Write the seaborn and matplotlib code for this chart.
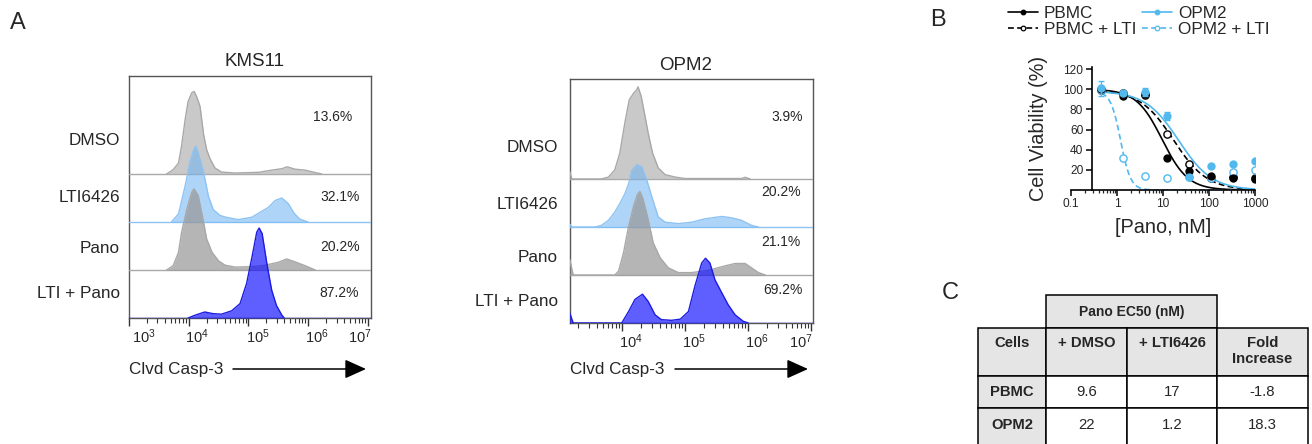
import numpy as np
import matplotlib
matplotlib.use("Agg")
import matplotlib.pyplot as plt
import matplotlib.transforms as mtrans
from matplotlib.lines import Line2D
from matplotlib.patches import Rectangle
from matplotlib.ticker import LogLocator, FixedLocator, NullFormatter
import seaborn as sns

# ------------------------------------------------------------------ data
conditions = ["DMSO", "LTI6426", "Pano", "LTI + Pano"]
kms11_pct = ["13.6%", "32.1%", "20.2%", "87.2%"]
opm2_pct = ["3.9%", "20.2%", "21.1%", "69.2%"]

# flow histograms: (log10 Clvd Casp-3 intensity, normalised count)
kms11_dmso = [(3.63, 0), (3.74, 0.09), (3.83, 0.23), (3.88, 0.58), (3.94, 1.13), (3.99, 1.51),
              (4.05, 1.69), (4.09, 1.72), (4.13, 1.62), (4.19, 1.41), (4.25, 0.82), (4.30, 0.51),
              (4.36, 0.31), (4.44, 0.125), (4.55, 0.04), (4.78, 0.02), (5.17, 0.035), (5.39, 0.08),
              (5.56, 0.11), (5.65, 0.15), (5.78, 0.10), (5.95, 0.08), (6.12, 0.03), (6.23, 0)]
kms11_lti = [(3.71, 0), (3.83, 0.17), (3.94, 0.75), (4.02, 1.24), (4.08, 1.50), (4.12, 1.58),
             (4.16, 1.44), (4.25, 1.03), (4.33, 0.54), (4.41, 0.26), (4.52, 0.14), (4.62, 0.10),
             (4.83, 0.05), (4.97, 0.08), (5.06, 0.10), (5.22, 0.22), (5.33, 0.30), (5.45, 0.45),
             (5.56, 0.50), (5.67, 0.38), (5.76, 0.19), (5.86, 0.06), (6.00, 0)]
kms11_pano = [(3.63, 0), (3.74, 0.09), (3.83, 0.37), (3.88, 0.78), (3.97, 1.27), (4.05, 1.62),
              (4.09, 1.69), (4.16, 1.55), (4.25, 0.99), (4.30, 0.65), (4.39, 0.37), (4.50, 0.19),
              (4.61, 0.10), (4.78, 0.06), (5.06, 0.07), (5.28, 0.10), (5.50, 0.16), (5.64, 0.23),
              (5.78, 0.17), (5.95, 0.09), (6.12, 0)]
kms11_ltipano = [(3.99, 0), (4.11, 0.06), (4.27, 0.125), (4.41, 0.09), (4.55, 0.08), (4.72, 0.15),
                 (4.86, 0.30), (4.97, 0.72), (5.06, 1.27), (5.14, 1.79), (5.18, 1.875), (5.23, 1.76),
                 (5.31, 1.13), (5.39, 0.58), (5.47, 0.26), (5.56, 0.06), (5.60, 0)]

opm2_dmso = [(3.175, 0.16), (3.21, 0), (3.68, 0), (3.79, 0.04), (3.89, 0.19), (3.97, 0.54),
             (4.05, 1.17), (4.12, 1.65), (4.19, 1.79), (4.24, 1.86), (4.26, 1.92), (4.31, 1.72),
             (4.37, 1.31), (4.42, 0.96), (4.49, 0.54), (4.58, 0.23), (4.69, 0.09), (4.85, 0.04),
             (5.0, 0.01), (5.9, 0.01), (5.96, 0.035), (6.04, 0)]
opm2_lti = [(3.175, 0.06), (3.21, 0), (3.58, 0), (3.68, 0.035), (3.79, 0.14), (3.89, 0.31),
            (3.97, 0.49), (4.05, 0.69), (4.11, 0.90), (4.16, 1.18), (4.24, 1.30), (4.32, 1.25),
            (4.40, 0.97), (4.48, 0.62), (4.58, 0.21), (4.69, 0.10), (4.90, 0.07), (5.11, 0.10),
            (5.32, 0.17), (5.59, 0.22), (5.75, 0.19), (5.90, 0.14), (6.06, 0.035), (6.17, 0)]
opm2_pano = [(3.175, 0.33), (3.23, 0), (3.89, 0), (3.95, 0.08), (4.03, 0.47), (4.11, 1.02),
             (4.19, 1.44), (4.25, 1.68), (4.29, 1.74), (4.34, 1.58), (4.42, 1.16), (4.50, 0.67),
             (4.61, 0.36), (4.74, 0.15), (4.90, 0.05), (5.11, 0.05), (5.38, 0.10), (5.64, 0.19),
             (5.80, 0.24), (5.96, 0.24), (6.06, 0.15), (6.17, 0.05), (6.28, 0)]
opm2_ltipano = [(3.175, 0.21), (3.23, 0), (4.0, 0), (4.11, 0.24), (4.21, 0.49), (4.33, 0.60),
                (4.42, 0.45), (4.53, 0.17), (4.63, 0.07), (4.79, 0.056), (4.93, 0.08), (5.06, 0.24),
                (5.16, 0.76), (5.27, 1.25), (5.33, 1.35), (5.40, 1.25), (5.48, 0.90), (5.59, 0.625),
                (5.69, 0.38), (5.80, 0.17), (5.93, 0.035), (6.01, 0)]

# viability (panel B)
conc_nM = [0.457, 1.37, 4.12, 12.3, 37.0, 111.0, 333.0, 1000.0]
via_pbmc = [100, 93, 95, 32, 19, 13.5, 12, 11]
via_pbmc_lti = [99, 96, 94, 56, 25.5, 12, 13, 11.5]
via_opm2 = [101, 96, 97, 73, 12.5, 24, 26, 28.5]
via_opm2_lti = [99, 32, 13.5, 11.5, 12.5, 12, 17.5, 20]
err_opm2 = [7.5, 1.5, 4, 4, 0, 0, 0, 0]
series_names = ["PBMC", "PBMC + LTI", "OPM2", "OPM2 + LTI"]
fit_ec50 = [9.6, 17, 22, 1.2]
fit_hill = [1.55, 1.2, 1.2, 4.0]
fit_top = [100, 99, 98, 98]

# table (panel C)
table_title = "Pano EC50 (nM)"
table_header = ["Cells", "+ DMSO", "+ LTI6426", "Fold\nIncrease"]
table_cells = ["PBMC", "OPM2"]
ec50_dmso = ["9.6", "22"]
ec50_lti = ["17", "1.2"]
fold_increase = ["-1.8", "18.3"]

# ------------------------------------------------------------------ style
sns.set_theme(style="ticks")
plt.rcParams["font.family"] = ["Liberation Sans", "DejaVu Sans"]
plt.rcParams["mathtext.fontset"] = "custom"
plt.rcParams["mathtext.rm"] = "Liberation Sans"
plt.rcParams["mathtext.it"] = "Liberation Sans:italic"
plt.rcParams["mathtext.bf"] = "Liberation Sans:bold"

W, H = 1312, 444
fig = plt.figure(figsize=(W / 100, H / 100), dpi=100)


def px_axes(l, t, r, b, **kw):
    return fig.add_axes([l / W, 1 - b / H, (r - l) / W, (b - t) / H], **kw)


ov = fig.add_axes([0, 0, 1, 1], zorder=20)
ov.set_xlim(0, W)
ov.set_ylim(H, 0)
ov.axis("off")

GRAY_F, GRAY_E = "#b3b3b3", "#a8a8a8"
PANO_F = "#969696"
LBLUE_F, LBLUE_E = "#6cb2f2", "#8cc3f3"
DBLUE_F, DBLUE_E = "#1414ff", "#1c1ce0"
hist_styles = [
    dict(fill=GRAY_F, alpha=0.7, edge=GRAY_E),
    dict(fill=LBLUE_F, alpha=0.55, edge=LBLUE_E),
    dict(fill=PANO_F, alpha=0.7, edge=GRAY_E),
    dict(fill=DBLUE_F, alpha=0.68, edge=DBLUE_E),
]
row_offsets = [3, 2, 1, 0]


def flow_panel(box, log_lo, decade_px, traces, title, title_xy, lab_x, lab_y,
               pct, pct_x, pct_y, lab_offsets, arrow_x):
    l, t, r, b = box
    ax = px_axes(l, t, r, b)
    ax.set_xscale("log")
    ax.set_xlim(10 ** log_lo, 10 ** (log_lo + (r - l) / decade_px))
    ax.set_ylim(0, (b - t) / 48.0)
    for i, (tr, off, st) in enumerate(zip(traces, row_offsets, hist_styles)):
        arr = np.array(tr, dtype=float)
        x = 10 ** arr[:, 0]
        y = off + arr[:, 1]
        ax.axhline(off, color=st["edge"], lw=1.0, zorder=3 + 2 * i)
        ax.fill_between(x, off, y, color=st["fill"], alpha=st["alpha"], lw=0, zorder=3 + 2 * i)
        sns.lineplot(x=x, y=y, ax=ax, color=st["edge"], lw=1.0, sort=False,
                     estimator=None, zorder=4 + 2 * i)
    ax.set_yticks([])
    ax.set_ylabel("")
    ax.set_xlabel("")
    for s in ax.spines.values():
        s.set_visible(True)
        s.set_color("#555555")
        s.set_linewidth(1.0)
    majors = [10.0 ** k for k in range(3, 8) if 10.0 ** k >= ax.get_xlim()[0] * 0.999]
    ax.xaxis.set_major_locator(FixedLocator(majors))
    ax.xaxis.set_minor_locator(LogLocator(base=10, subs=np.arange(2, 10)))
    ax.xaxis.set_minor_formatter(NullFormatter())
    ax.tick_params(axis="x", which="major", direction="out", length=6, width=1.0,
                   color="#333333", labelsize=10.5, pad=0.5)
    ax.tick_params(axis="x", which="minor", direction="out", length=3.5, width=0.8,
                   color="#333333")
    ax.set_xticks(majors)
    ax.set_xticklabels([r"$\mathdefault{10^{%d}}$" % int(round(np.log10(m))) for m in majors])
    for lab, dx in zip(ax.get_xticklabels(), lab_offsets):
        lab.set_transform(lab.get_transform() +
                          mtrans.ScaledTranslation(dx / 100, 0, fig.dpi_scale_trans))
    # texts
    ov.text(title_xy[0], title_xy[1], title, fontsize=13.5, ha="center", va="center")
    for name, yy in zip(conditions, lab_y):
        ov.text(lab_x, yy, name, fontsize=12.3, ha="right", va="center")
    for p, xx, yy in zip(pct, pct_x, pct_y):
        ov.text(xx, yy, p, fontsize=10, ha="right", va="center")
    ov.text(l, 369, "Clvd Casp-3", fontsize=12.3, ha="left", va="center")
    ov.annotate("", xy=(arrow_x[1], 369), xytext=(arrow_x[0], 369),
                arrowprops=dict(arrowstyle="-|>,head_length=1.0,head_width=0.45",
                                lw=1.1, color="black", shrinkA=0, shrinkB=0,
                                mutation_scale=13))
    return ax


flow_panel((129, 76, 371, 318), 3.0, 59.7,
           [kms11_dmso, kms11_lti, kms11_pano, kms11_ltipano],
           "KMS11", (255, 62), 120, [140, 197, 248, 293],
           kms11_pct, [352, 360, 360, 359], [117, 197, 247, 293],
           [15, 8, 9, 9, -8], (233, 366))
flow_panel((570, 79, 813, 323), 4 - 51.7 / 63, 63.0,
           [opm2_dmso, opm2_lti, opm2_pano, opm2_ltipano],
           "OPM2", (686, 65), 558, [147, 204, 257, 301],
           opm2_pct, [803, 801, 801, 803], [117, 192, 242, 290],
           [9, 9, 9, -10], (675, 808))

# ------------------------------------------------------------------ panel B
LB = "#52b9ee"
axB = px_axes(1071, 67, 1255, 190)
axB.set_xscale("log")
axB.set_xlim(0.1, 1000)
axB.set_ylim(0, 122)
colors = ["black", "black", LB, LB]
styles = ["-", (0, (3.5, 2)), "-", (0, (3.5, 2))]
filled = [True, False, True, False]
vals = [via_pbmc, via_pbmc_lti, via_opm2, via_opm2_lti]
xfit = np.geomspace(conc_nM[0], conc_nM[-1], 300)
for c, ls, e50, hl, top in zip(colors, styles, fit_ec50, fit_hill, fit_top):
    yfit = top / (1 + (xfit / e50) ** hl)
    sns.lineplot(x=xfit, y=yfit, ax=axB, color=c, linestyle=ls, lw=1.2, estimator=None)
for name, c, fl, v in zip(series_names, colors, filled, vals):
    if name == "OPM2":
        axB.errorbar(conc_nM, v, yerr=err_opm2, fmt="o", color=c, ms=5, capsize=2.5,
                     elinewidth=1.0, capthick=1.0, zorder=5)
    else:
        axB.plot(conc_nM, v, "o", color=c, mfc=c if fl else "white", mec=c,
                 ms=5 if fl else 5.2, mew=1.0, zorder=5 if fl else 4)
axB.set_xlabel("")
axB.set_ylabel("")
axB.spines["top"].set_visible(False)
axB.spines["right"].set_visible(False)
axB.spines["left"].set_position(("data", 0.28))
for s in ("left", "bottom"):
    axB.spines[s].set_linewidth(1.2)
    axB.spines[s].set_color("black")
axB.set_yticks([20, 40, 60, 80, 100, 120])
axB.set_xticks([0.1, 1, 10, 100, 1000])
axB.set_xticklabels(["0.1", "1", "10", "100", "1000"])
axB.xaxis.set_minor_locator(LogLocator(base=10, subs=np.arange(2, 10)))
axB.xaxis.set_minor_formatter(NullFormatter())
axB.tick_params(axis="both", which="major", direction="out", length=4, width=1.1,
                color="black", labelsize=8.6, pad=2)
axB.tick_params(axis="x", which="minor", direction="out", length=2.5, width=0.9)
ov.text(1038, 128, "Cell Viability (%)", fontsize=14.3, rotation=90, ha="center", va="center")
ov.text(1163, 227, "[Pano, nM]", fontsize=14.3, ha="center", va="center")

handles = [Line2D([], [], color=c, linestyle=ls, lw=1.2, marker="o", ms=3.3,
                  mfc=c if fl else "white", mec=c, mew=0.9)
           for c, ls, fl in zip(colors, styles, filled)]
fig.legend(handles, series_names, loc="upper left", bbox_to_anchor=(1008 / W, 1 - 6 / H),
           ncol=2, frameon=False, fontsize=12.3, handlelength=1.75, handletextpad=0.35,
           columnspacing=0.35, labelspacing=0.08, borderpad=0, borderaxespad=0)

# ------------------------------------------------------------------ panel C table
col_edges = [978, 1046, 1127, 1217, 1308]
row_edges = [328, 376, 408, 448]
TGRAY = "#e5e5e5"
ov.add_patch(Rectangle((col_edges[1], 295), col_edges[3] - col_edges[1], 328 - 295,
                       facecolor=TGRAY, edgecolor="black", lw=1.1))
ov.text((col_edges[1] + col_edges[3]) / 2, 311.5, table_title, fontsize=10,
        fontweight="bold", ha="center", va="center")
for j in range(4):
    for i in range(3):
        gray = (i == 0) or (j == 0)
        ov.add_patch(Rectangle((col_edges[j], row_edges[i]), col_edges[j + 1] - col_edges[j],
                               row_edges[i + 1] - row_edges[i],
                               facecolor=TGRAY if gray else "white", edgecolor="black",
                               lw=1.1, clip_on=True))
for j, htxt in enumerate(table_header):
    ov.text((col_edges[j] + col_edges[j + 1]) / 2, 336, htxt, fontsize=10.7,
            fontweight="bold", ha="center", va="top", linespacing=1.15)
row_cy = [392, 425]
for i, cell in enumerate(table_cells):
    cy = row_cy[i]
    ov.text((col_edges[0] + col_edges[1]) / 2, cy, cell, fontsize=10.7, fontweight="bold",
            ha="center", va="center")
    for j, v in enumerate([ec50_dmso[i], ec50_lti[i], fold_increase[i]], start=1):
        ov.text((col_edges[j] + col_edges[j + 1]) / 2, cy, v, fontsize=10.7,
                ha="center", va="center")

# panel letters
ov.text(18, 23, "A", fontsize=17, ha="center", va="center")
ov.text(938, 20, "B", fontsize=17, ha="center", va="center")
ov.text(950, 293, "C", fontsize=17, ha="center", va="center")

fig.savefig("out.png", dpi=100)
